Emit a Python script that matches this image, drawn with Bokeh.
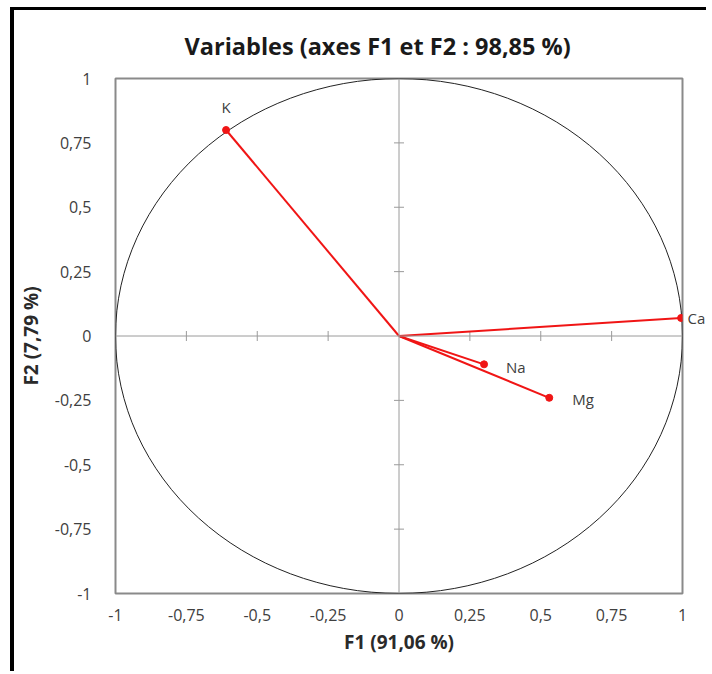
import math
from bokeh.plotting import figure
from bokeh.models import Range1d, FixedTicker, Span, ColumnDataSource, Label, LinearAxis
from bokeh.embed import file_html
from bokeh.resources import INLINE

# ---- data ----
variables = ["K", "Ca", "Na", "Mg"]
f1 = [-0.61, 0.995, 0.30, 0.53]
f2 = [0.80, 0.07, -0.11, -0.24]
ticks = [-1, -0.75, -0.5, -0.25, 0, 0.25, 0.5, 0.75, 1]
tick_labels = ["-1", "-0,75", "-0,5", "-0,25", "0", "0,25", "0,5", "0,75", "1"]
title_text = "Variables (axes F1 et F2 : 98,85 %)"
x_title = "F1 (91,06 %)"
y_title = "F2 (7,79 %)"

FONT = "Open Sans"
TXT = "#404040"

p = figure(width=696, height=664, output_backend="svg", toolbar_location=None,
           x_range=Range1d(-1, 1), y_range=Range1d(-1, 1),
           min_border_left=98, min_border_right=28, min_border_top=68, min_border_bottom=81)
p.styles = {"border-left": "4px solid black", "border-top": "3px solid black",
            "margin-left": "10px", "margin-top": "7px"}

p.grid.visible = False
p.background_fill_color = "white"
p.border_fill_color = "white"
p.outline_line_color = "#8a8a8a"
p.outline_line_width = 2

# title
p.title.text = title_text
p.title.align = "left"
p.title.text_font = FONT
p.title.text_font_size = "23.5px"
p.title.text_font_style = "bold"
p.title.text_color = "#1a1a1a"
p.title.offset = 69
p.title.standoff = 34

overrides = {t: lab for t, lab in zip(ticks, tick_labels)}
for ax in (p.xaxis[0], p.yaxis[0]):
    ax.ticker = FixedTicker(ticks=ticks)
    ax.major_label_overrides = overrides
    ax.axis_line_color = None
    ax.major_tick_line_color = None
    ax.minor_tick_line_color = None
    ax.major_label_text_font = FONT
    ax.major_label_text_font_size = "16px"
    ax.major_label_text_color = TXT
    ax.axis_label_text_font = FONT
    ax.axis_label_text_font_size = "19px"
    ax.axis_label_text_font_style = "bold"
    ax.axis_label_text_color = "#2a2a2a"
p.xaxis[0].axis_label = x_title
p.yaxis[0].axis_label = y_title
p.xaxis[0].major_label_standoff = 9
p.yaxis[0].major_label_standoff = 18
p.xaxis[0].axis_label_standoff = 5
p.yaxis[0].axis_label_standoff = 8

# central axes
p.add_layout(Span(location=0, dimension="width", line_color="#9a9a9a", line_width=1))
p.add_layout(Span(location=0, dimension="height", line_color="#9a9a9a", line_width=1))
inner = [t for t in ticks if t not in (-1, 0, 1)]
p.scatter(x=inner, y=[0] * len(inner), marker="dash", angle=math.pi / 2, size=10,
          line_color="#9a9a9a", line_width=1)
p.scatter(x=[0] * len(inner), y=inner, marker="dash", size=10,
          line_color="#9a9a9a", line_width=1)

# correlation circle
p.ellipse(x=0, y=0, width=2, height=2, fill_color=None, line_color="#222222", line_width=1)

# vectors
src = ColumnDataSource(dict(x=f1, y=f2, x0=[0] * len(f1), y0=[0] * len(f1)))
p.segment(x0="x0", y0="y0", x1="x", y1="y", source=src, line_color="#f01515", line_width=2)
p.scatter(x="x", y="y", source=src, size=7, fill_color="#f01515", line_color="#f01515")

label_style = {"K": (0, 23, "center"), "Na": (22, -3, "left"), "Mg": (23, -1, "left")}
for name, xv, yv in zip(variables, f1, f2):
    if name in label_style:
        xo, yo, al = label_style[name]
        p.add_layout(Label(x=xv, y=yv, text=name, x_offset=xo, y_offset=yo,
                           text_align=al, text_baseline="middle", text_font=FONT,
                           text_font_size="15px", text_color=TXT))

# label of the point lying on the frame edge (outside the clip region) -> right axis
i_ca = variables.index("Ca")
ca_axis = LinearAxis(ticker=FixedTicker(ticks=[f2[i_ca]]),
                     major_label_overrides={f2[i_ca]: variables[i_ca]},
                     axis_line_color=None, major_tick_line_color=None,
                     major_tick_in=0, major_tick_out=0,
                     minor_tick_line_color=None, minor_tick_in=0, minor_tick_out=0,
                     major_label_standoff=5,
                     major_label_text_font=FONT, major_label_text_font_size="15px",
                     major_label_text_color=TXT)
p.add_layout(ca_axis, "right")

open("out.html", "w").write(file_html(p, INLINE))
